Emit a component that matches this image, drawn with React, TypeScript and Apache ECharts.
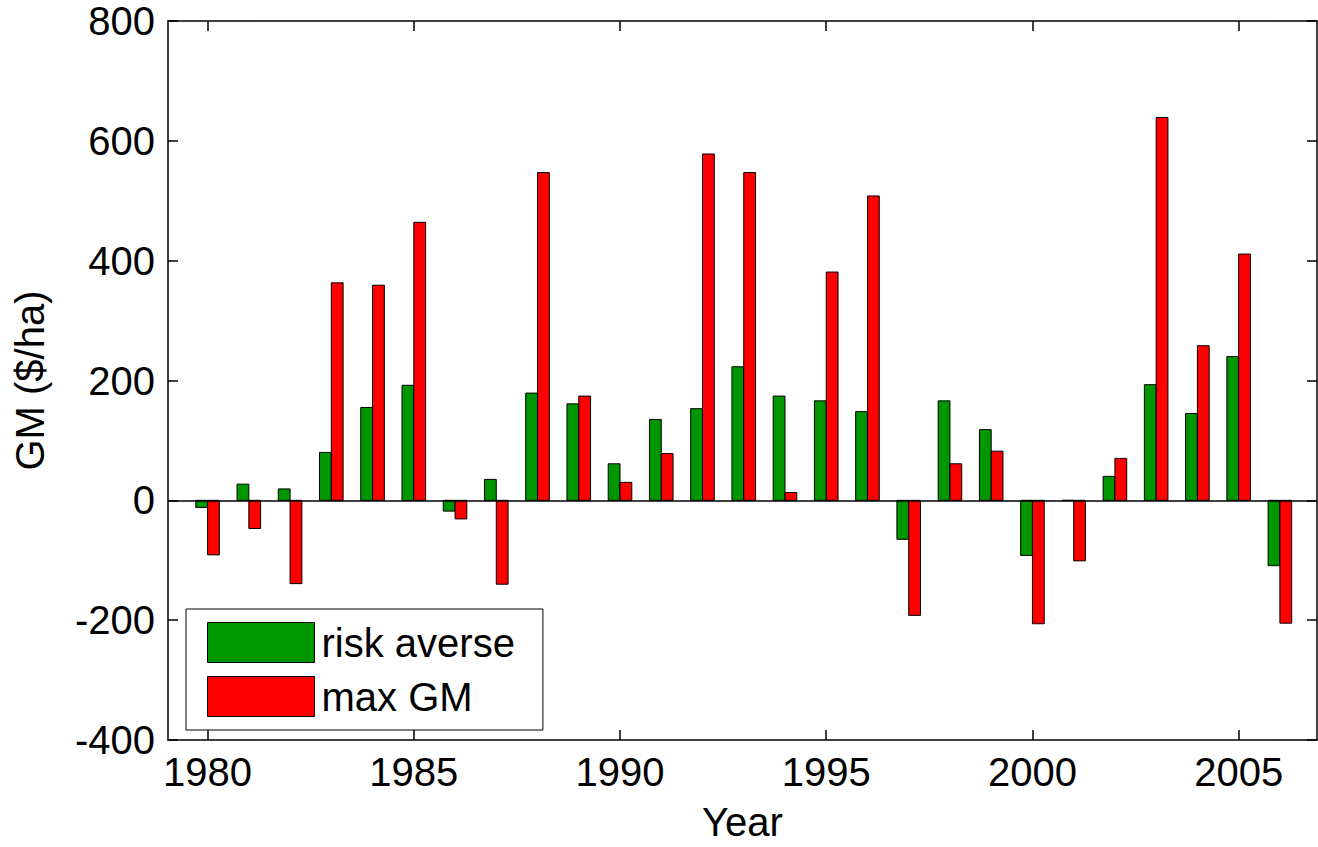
import React, { useEffect, useRef } from "react";
import * as echarts from "echarts";

const years = [1980, 1981, 1982, 1983, 1984, 1985, 1986, 1987, 1988, 1989, 1990, 1991, 1992, 1993, 1994, 1995, 1996, 1997, 1998, 1999, 2000, 2001, 2002, 2003, 2004, 2005, 2006];
const riskAverse = [-12, 27, 19, 80, 155, 192, -18, 35, 179, 161, 61, 135, 153, 223, 174, 166, 148, -65, 166, 118, -92, 0, 40, 193, 145, 240, -109];
const maxGM = [-91, -47, -139, 363, 359, 464, -31, -140, 547, 174, 30, 78, 578, 547, 13, 381, 508, -192, 61, 82, -206, -101, 70, 639, 258, 411, -205];
const xTickLabels = [1980, 1985, 1990, 1995, 2000, 2005];
const yMin = -400;
const yMax = 800;
const yStep = 200;

const FONT = "'Liberation Sans', Arial, sans-serif";
const GREEN = "#009600";
const RED = "#ff0000";
const BAR_W = 0.286;

function makeBarSeries(name: string, values: number[], color: string, side: "left" | "right", extra: any = {}) {
  return {
    type: "custom",
    name,
    data: years.map((y, i) => [y, values[i]]),
    encode: { x: 0, y: 1 },
    itemStyle: { color, borderColor: "#000", borderWidth: 1 },
    renderItem: (params: any, api: any) => {
      const x = api.value(0);
      const v = api.value(1);
      const w = api.size([BAR_W, 0])[0];
      const p0 = api.coord([x, 0]);
      const p1 = api.coord([x, v]);
      const left = side === "left" ? p0[0] - w : p0[0];
      return {
        type: "rect",
        shape: { x: left, y: Math.min(p0[1], p1[1]), width: w, height: Math.abs(p1[1] - p0[1]) },
        style: { fill: color, stroke: "#000", lineWidth: 1 },
      };
    },
    ...extra,
  };
}

export default function App() {
  const ref = useRef<HTMLDivElement>(null);
  useEffect(() => {
    if (!ref.current) return;
    const chart = echarts.init(ref.current, undefined, { renderer: "svg" });
    const axisLine = { show: true, onZero: false, lineStyle: { color: "#000", width: 1.5 } };
    const tickInside = { show: true, inside: true, length: 10, lineStyle: { color: "#000", width: 1.5 } };
    chart.setOption({
      animation: false,
      backgroundColor: "#fff",
      textStyle: { fontFamily: FONT },
      grid: { left: 168, top: 21, right: 1, bottom: 104, containLabel: false },
      legend: {
        show: true,
        orient: "vertical",
        left: 186,
        top: 609,
        itemWidth: 107,
        itemHeight: 40,
        itemGap: 13,
        padding: [13, 28, 13, 21],
        borderColor: "#000",
        borderWidth: 1,
        backgroundColor: "#fff",
        selectedMode: false,
        textStyle: { fontSize: 40, color: "#000", fontFamily: FONT, padding: [0, 0, 0, 2] },
        data: [
          { name: "risk averse", icon: "rect", itemStyle: { color: GREEN, borderColor: "#000", borderWidth: 1 } },
          { name: "max GM", icon: "rect", itemStyle: { color: RED, borderColor: "#000", borderWidth: 1 } },
        ],
      },
      xAxis: [
        {
          type: "value",
          position: "bottom",
          min: 1979.04,
          max: 2006.9,
          name: "Year",
          nameLocation: "middle",
          nameGap: 62,
          nameTextStyle: { fontSize: 40, color: "#000", fontFamily: FONT },
          axisLine,
          axisTick: { ...tickInside, customValues: xTickLabels },
          axisLabel: {
            show: true,
            customValues: xTickLabels,
            formatter: (v: number) => String(v),
            fontSize: 40,
            color: "#000",
            margin: 12,
            fontFamily: FONT,
          },
          splitLine: { show: false },
        },
        {
          type: "value",
          position: "top",
          min: 1979.04,
          max: 2006.9,
          axisLine,
          axisTick: { ...tickInside, customValues: xTickLabels },
          axisLabel: { show: false },
          splitLine: { show: false },
        },
      ],
      yAxis: [
        {
          type: "value",
          position: "left",
          min: yMin,
          max: yMax,
          interval: yStep,
          name: "GM ($/ha)",
          nameLocation: "middle",
          nameGap: 118,
          nameTextStyle: { fontSize: 40, color: "#000", fontFamily: FONT },
          axisLine,
          axisTick: tickInside,
          axisLabel: { fontSize: 40, color: "#000", margin: 13, fontFamily: FONT, formatter: (v: number) => String(v) },
          splitLine: { show: false },
        },
        {
          type: "value",
          position: "right",
          min: yMin,
          max: yMax,
          interval: yStep,
          axisLine,
          axisTick: tickInside,
          axisLabel: { show: false },
          splitLine: { show: false },
        },
      ],
      series: [
        makeBarSeries("risk averse", riskAverse, GREEN, "left"),
        makeBarSeries("max GM", maxGM, RED, "right", {
          markLine: {
            silent: true,
            symbol: ["none", "none"],
            label: { show: false },
            lineStyle: { color: "#000", width: 1.5, type: "solid" },
            data: [{ yAxis: 0 }],
          },
        }),
      ],
    });
    return () => chart.dispose();
  }, []);
  return (
    <div
      ref={ref}
      style={{ position: "fixed", left: 0, top: 0, width: 1318, height: 847, background: "#fff" }}
    />
  );
}
